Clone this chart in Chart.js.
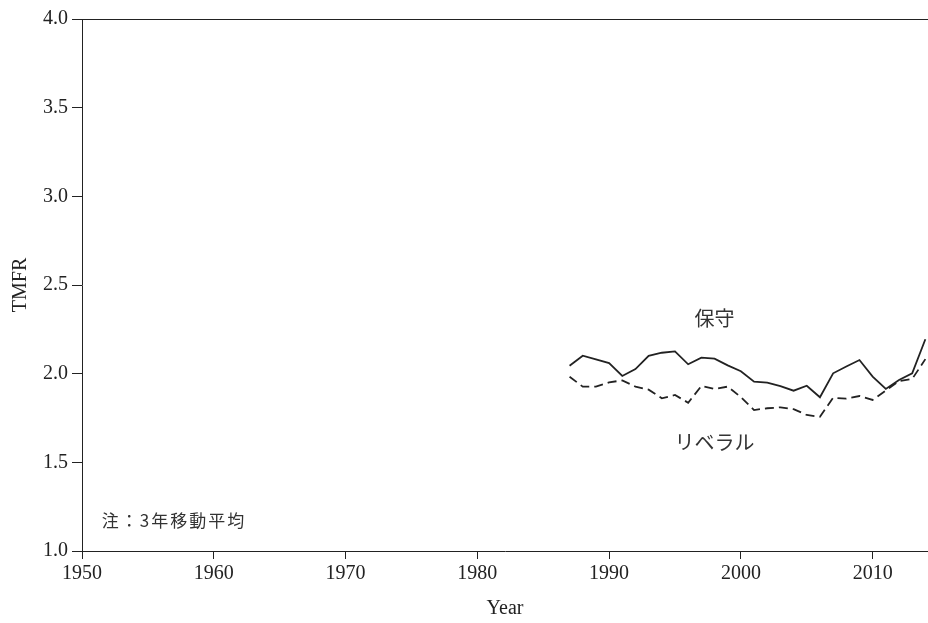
<!DOCTYPE html>
<html>
<head>
<meta charset="utf-8">
<script src="https://cdn.jsdelivr.net/npm/chart.js@4.4.1/dist/chart.umd.min.js"></script>
<style>
  html, body { margin: 0; padding: 0; background: #fff; }
  #wrap { width: 928px; height: 623px; }
</style>
</head>
<body>
<div id="wrap"><canvas id="c" width="928" height="623"></canvas></div>
<script>
// Total marital fertility rate, 3-year moving average, by political leaning
const years = [1987, 1988, 1989, 1990, 1991, 1992, 1993, 1994, 1995, 1996,
               1997, 1998, 1999, 2000, 2001, 2002, 2003, 2004, 2005, 2006,
               2007, 2008, 2009, 2010, 2011, 2012, 2013, 2014];
const conservative = [2.045, 2.101, 2.080, 2.060, 1.987, 2.026, 2.100, 2.118, 2.126, 2.053,
                      2.090, 2.085, 2.047, 2.014, 1.955, 1.949, 1.930, 1.904, 1.932, 1.867,
                      2.002, 2.040, 2.077, 1.983, 1.914, 1.964, 2.002, 2.194];
const liberal = [1.983, 1.927, 1.927, 1.951, 1.962, 1.927, 1.910, 1.861, 1.880, 1.836,
                 1.930, 1.914, 1.927, 1.868, 1.795, 1.805, 1.810, 1.800, 1.767, 1.757,
                 1.864, 1.859, 1.874, 1.852, 1.905, 1.958, 1.970, 2.082];
const xTicks = [1950, 1960, 1970, 1980, 1990, 2000, 2010];
const yTicks = [1.0, 1.5, 2.0, 2.5, 3.0, 3.5, 4.0];

// In-plot series names and note, placed in data coordinates
const labelSeries = ['保守', 'リベラル'];
const labelAt = [[1998.0, 2.314], [1998.0, 1.612]];
const noteText = '注：3年移動平均';
const noteAt = [1951.5, 1.17];

const serif = '"Liberation Serif", "DejaVu Serif", "Noto Sans CJK JP", serif';
const ink = '#222';

const pts = arr => years.map((y, i) => ({ x: y, y: arr[i] }));

const annotate = {
  id: 'annotate',
  afterDraw(chart) {
    const { ctx, chartArea, scales } = chart;
    ctx.save();
    // top frame line
    ctx.strokeStyle = ink;
    ctx.lineWidth = 1;
    ctx.beginPath();
    ctx.moveTo(chartArea.left, chartArea.top + 0.5);
    ctx.lineTo(chartArea.right, chartArea.top + 0.5);
    ctx.stroke();

    ctx.fillStyle = '#333';
    ctx.textBaseline = 'middle';
    ctx.font = '20px "Noto Sans CJK JP", sans-serif';
    ctx.textAlign = 'center';
    labelSeries.forEach((t, i) => {
      ctx.fillText(t, scales.x.getPixelForValue(labelAt[i][0]), scales.y.getPixelForValue(labelAt[i][1]));
    });
    ctx.font = '17px "Noto Sans CJK JP", sans-serif';
    ctx.textAlign = 'left';
    ctx.letterSpacing = '2px';
    ctx.fillText(noteText, scales.x.getPixelForValue(noteAt[0]), scales.y.getPixelForValue(noteAt[1]));
    ctx.restore();
  }
};

new Chart(document.getElementById('c'), {
  type: 'line',
  data: {
    datasets: [
      {
        label: '保守',
        data: pts(conservative),
        borderColor: ink,
        borderWidth: 1.8,
        pointRadius: 0,
        tension: 0,
        fill: false
      },
      {
        label: 'リベラル',
        data: pts(liberal),
        borderColor: ink,
        borderWidth: 1.8,
        borderDash: [9, 5],
        pointRadius: 0,
        tension: 0,
        fill: false
      }
    ]
  },
  options: {
    responsive: false,
    animation: false,
    devicePixelRatio: 1,
    layout: { padding: { top: 19, right: 0, left: 0, bottom: 0 } },
    plugins: {
      legend: { display: false },
      tooltip: { enabled: false }
    },
    scales: {
      x: {
        type: 'linear',
        min: 1950,
        max: 2014.2,
        afterBuildTicks: s => { s.ticks = xTicks.map(v => ({ value: v })); },
        afterFit: s => { s.height = 72; },
        grid: { display: true, drawOnChartArea: false, drawTicks: true, tickLength: 8, color: ink, lineWidth: 1 },
        border: { display: true, color: ink, width: 1 },
        ticks: {
          color: ink,
          padding: 3,
          maxRotation: 0,
          font: { family: serif, size: 20 },
          callback: v => String(v)
        },
        title: {
          display: true,
          text: 'Year',
          color: ink,
          font: { family: serif, size: 20 },
          padding: { top: 0, bottom: 2 }
        }
      },
      y: {
        type: 'linear',
        min: 1.0,
        max: 4.0,
        afterBuildTicks: s => { s.ticks = yTicks.map(v => ({ value: v })); },
        afterFit: s => { s.width = 82; },
        grid: { display: true, drawOnChartArea: false, drawTicks: true, tickLength: 10, color: ink, lineWidth: 1 },
        border: { display: true, color: ink, width: 1 },
        ticks: {
          color: ink,
          padding: 4,
          font: { family: serif, size: 20 },
          callback: v => Number(v).toFixed(1)
        },
        title: {
          display: true,
          text: 'TMFR',
          color: ink,
          font: { family: serif, size: 20 },
          padding: { top: 9, bottom: 0 }
        }
      }
    }
  },
  plugins: [annotate]
});
</script>
</body>
</html>
